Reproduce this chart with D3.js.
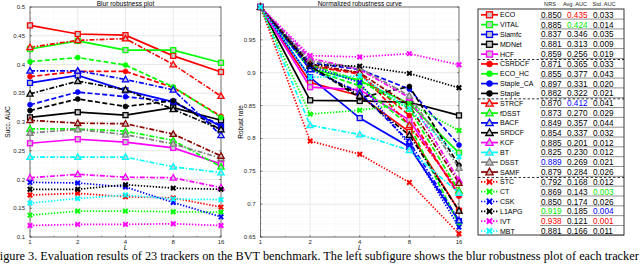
<!DOCTYPE html>
<html>
<head>
<meta charset="utf-8">
<script src="https://cdn.jsdelivr.net/npm/d3@7"></script>
<style>
  body { margin: 0; background: #fff; }
  svg { display: block; font-family: "Liberation Sans", Arial, sans-serif; }
</style>
</head>
<body>
<div id="chart"></div>
<script>
// ---- data ----
const lValues = [1, 2, 4, 8, 16]
const trackers = ['ECO', 'VITAL', 'Siamfc', 'MDNet', 'HCF',
  'CSRDCF', 'ECO_HC', 'Staple_CA', 'Staple',
  'STRCF', 'fDSST', 'BACF', 'SRDCF', 'KCF', 'BT', 'DSST', 'SAMF',
  'STC', 'CT', 'CSK', 'L1APG', 'IVT', 'MBT']
// 0 solid/square, 1 dashed/circle, 2 dash-dot/triangle, 3 dotted/cross
const groups = [0, 0, 0, 0, 0, 1, 1, 1, 1, 2, 2, 2, 2, 2, 2, 2, 2, 3, 3, 3, 3, 3, 3]
const colors = ['#ff0000', '#00ff00', '#0000ff', '#000000', '#ff00ff',
  '#ff0000', '#00ff00', '#0000ff', '#000000',
  '#ff0000', '#00ff00', '#0000ff', '#000000', '#ff00ff', '#00ffff', '#808080', '#8b0000',
  '#ff0000', '#00ff00', '#0000ff', '#000000', '#ff00ff', '#00ffff']

// Succ. AUC per L (1,2,4,8,16)
const succAuc = [
  [0.468, 0.453, 0.451, 0.415, 0.387], // ECO
  [0.427, 0.441, 0.425, 0.425, 0.403], // VITAL
  [0.368, 0.381, 0.355, 0.335, 0.292], // Siamfc
  [0.308, 0.317, 0.312, 0.325, 0.303], // MDNet
  [0.263, 0.270, 0.265, 0.255, 0.227], // HCF
  [0.379, 0.388, 0.388, 0.360, 0.310], // CSRDCF
  [0.405, 0.412, 0.399, 0.361, 0.308], // ECO_HC
  [0.330, 0.352, 0.344, 0.335, 0.294], // Staple_CA
  [0.320, 0.340, 0.327, 0.337, 0.286], // Staple
  [0.430, 0.442, 0.445, 0.400, 0.345], // STRCF
  [0.288, 0.288, 0.284, 0.268, 0.222], // fDSST
  [0.389, 0.389, 0.374, 0.356, 0.277], // BACF
  [0.349, 0.371, 0.356, 0.322, 0.287], // SRDCF
  [0.203, 0.209, 0.204, 0.203, 0.186], // KCF
  [0.239, 0.239, 0.239, 0.222, 0.212], // BT
  [0.281, 0.287, 0.278, 0.262, 0.237], // DSST
  [0.303, 0.298, 0.297, 0.279, 0.241], // SAMF
  [0.173, 0.176, 0.170, 0.168, 0.152], // STC
  [0.138, 0.145, 0.145, 0.144, 0.143], // CT
  [0.195, 0.194, 0.187, 0.160, 0.135], // CSK
  [0.183, 0.183, 0.191, 0.185, 0.183], // L1APG
  [0.120, 0.122, 0.122, 0.123, 0.120], // IVT
  [0.159, 0.167, 0.173, 0.166, 0.165]  // MBT
]

// normalized robust rate per L
const robustRate = [
  [1, 0.885, 0.865, 0.810, 0.690], // ECO
  [1, 0.906, 0.888, 0.853, 0.778], // VITAL
  [1, 0.893, 0.831, 0.787, 0.674], // Siamfc
  [1, 0.858, 0.857, 0.855, 0.835], // MDNet
  [1, 0.878, 0.874, 0.828, 0.715], // HCF
  [1, 0.910, 0.898, 0.835, 0.712], // CSRDCF
  [1, 0.905, 0.880, 0.820, 0.670], // ECO_HC
  [1, 0.915, 0.905, 0.875, 0.790], // Staple_CA
  [1, 0.910, 0.862, 0.879, 0.759], // Staple
  [1, 0.910, 0.900, 0.820, 0.720], // STRCF
  [1, 0.912, 0.888, 0.845, 0.720], // fDSST
  [1, 0.905, 0.870, 0.795, 0.675], // BACF
  [1, 0.910, 0.865, 0.805, 0.690], // SRDCF
  [1, 0.922, 0.905, 0.862, 0.736], // KCF
  [1, 0.820, 0.806, 0.782, 0.717], // BT
  [1, 0.918, 0.907, 0.865, 0.755], // DSST
  [1, 0.913, 0.900, 0.850, 0.732], // SAMF
  [1, 0.796, 0.776, 0.733, 0.655], // STC
  [1, 0.837, 0.843, 0.853, 0.812], // CT
  [1, 0.910, 0.885, 0.790, 0.665], // CSK
  [1, 0.912, 0.910, 0.899, 0.877], // L1APG
  [1, 0.926, 0.924, 0.929, 0.912], // IVT
  [1, 0.893, 0.895, 0.845, 0.772]  // MBT
]

const nrs    = ['0.850', '0.885', '0.837', '0.881', '0.859', '0.871', '0.855', '0.897', '0.882', '0.870', '0.873', '0.849', '0.854', '0.885', '0.825', '0.889', '0.879', '0.792', '0.869', '0.850', '0.919', '0.938', '0.881']
const avgAuc = ['0.435', '0.424', '0.346', '0.313', '0.256', '0.365', '0.377', '0.331', '0.322', '0.412', '0.270', '0.357', '0.337', '0.201', '0.230', '0.269', '0.284', '0.168', '0.143', '0.174', '0.185', '0.121', '0.166']
const stdAuc = ['0.033', '0.014', '0.035', '0.009', '0.019', '0.033', '0.043', '0.020', '0.021', '0.041', '0.029', '0.044', '0.032', '0.012', '0.012', '0.021', '0.026', '0.012', '0.003', '0.026', '0.004', '0.001', '0.011']
// highlighted cells: [row, column, colour]
const highlights = [[0, 1, '#ff0000'], [1, 1, '#00ee00'], [9, 1, '#0000ff'], [15, 0, '#0000ff'],
  [18, 2, '#00ee00'], [20, 0, '#00ee00'], [20, 2, '#0000ff'], [21, 0, '#ff0000'], [21, 2, '#ff0000']]

const caption = 'Figure 3. Evaluation results of 23 trackers on the BVT benchmark. The left subfigure shows the blur robustness plot of each tracker'

// ---- drawing ----
const width = 640, height = 265
const plotTop = 7, plotBottom = 237
const dashes = [null, '5,2.4', '5,1.8,1.4,1.8', '1.4,1.6']

const svg = d3.select('#chart').append('svg')
  .attr('width', width).attr('height', height)

function marker(sel, grp, col, s) {
  if (grp === 0) {
    sel.append('rect').attr('x', -s / 2).attr('y', -s / 2).attr('width', s).attr('height', s)
      .attr('fill', '#c8c8c8').attr('stroke', col).attr('stroke-width', 1.3)
  } else if (grp === 1) {
    sel.append('circle').attr('r', s * 0.5).attr('fill', col).attr('stroke', col).attr('stroke-width', 0.6)
  } else if (grp === 2) {
    const h = s * 0.62
    sel.append('path').attr('d', `M0,${-h * 1.05}L${h},${h * 0.75}L${-h},${h * 0.75}Z`)
      .attr('fill', '#c8c8c8').attr('stroke', col).attr('stroke-width', 1.3)
  } else {
    const r = s * 0.45
    sel.append('path').attr('d', `M${-r},${-r}L${r},${r}M${-r},${r}L${r},${-r}`)
      .attr('fill', 'none').attr('stroke', col).attr('stroke-width', 2)
  }
}

function panel(cfg) {
  const x = d3.scaleLog().base(2).domain([1, 16]).range(cfg.xRange)
  const y = d3.scaleLinear().domain(cfg.yDomain).range([plotBottom, plotTop])
  const g = svg.append('g')
  const x0 = cfg.xRange[0], x1 = cfg.xRange[1]

  // minor grid
  const minorX = [0.5, 1.5, 2.5, 3.5].map(e => Math.pow(2, e))
  const minorY = d3.range(Math.round(cfg.yDomain[0] * 100), Math.round(cfg.yDomain[1] * 100) + 1)
    .map(v => v / 100)
  g.selectAll('.mgx').data(minorX).join('line')
    .attr('x1', d => x(d)).attr('x2', d => x(d)).attr('y1', plotTop).attr('y2', plotBottom)
    .attr('stroke', '#ececec').attr('stroke-width', 0.5).attr('stroke-dasharray', '1,1')
  g.selectAll('.mgy').data(minorY).join('line')
    .attr('x1', x0).attr('x2', x1).attr('y1', d => y(d)).attr('y2', d => y(d))
    .attr('stroke', '#efefef').attr('stroke-width', 0.5).attr('stroke-dasharray', '1,1')

  // major grid
  const majorY = d3.range(Math.round(cfg.yDomain[0] * 20), Math.round(cfg.yDomain[1] * 20) + 1)
    .map(v => v / 20)
  g.selectAll('.gx').data(lValues).join('line')
    .attr('x1', d => x(d)).attr('x2', d => x(d)).attr('y1', plotTop).attr('y2', plotBottom)
    .attr('stroke', '#dcdcdc').attr('stroke-width', 0.6)
  g.selectAll('.gy').data(majorY).join('line')
    .attr('x1', x0).attr('x2', x1).attr('y1', d => y(d)).attr('y2', d => y(d))
    .attr('stroke', '#dcdcdc').attr('stroke-width', 0.6)

  // ticks inside
  g.selectAll('.ty').data(majorY).join('line')
    .attr('x1', x0).attr('x2', x0 + 2).attr('y1', d => y(d)).attr('y2', d => y(d))
    .attr('stroke', '#333').attr('stroke-width', 0.5)
  g.selectAll('.tyr').data(majorY).join('line')
    .attr('x1', x1).attr('x2', x1 - 2).attr('y1', d => y(d)).attr('y2', d => y(d))
    .attr('stroke', '#333').attr('stroke-width', 0.5)
  g.selectAll('.mty').data(minorY).join('line')
    .attr('x1', x0).attr('x2', x0 + 1).attr('y1', d => y(d)).attr('y2', d => y(d))
    .attr('stroke', '#333').attr('stroke-width', 0.4)
  g.selectAll('.tx').data(lValues).join('line')
    .attr('x1', d => x(d)).attr('x2', d => x(d)).attr('y1', plotBottom).attr('y2', plotBottom - 2)
    .attr('stroke', '#333').attr('stroke-width', 0.5)
  g.selectAll('.mtx').data(minorX).join('line')
    .attr('x1', d => x(d)).attr('x2', d => x(d)).attr('y1', plotBottom).attr('y2', plotBottom - 1.2)
    .attr('stroke', '#333').attr('stroke-width', 0.4)

  // box
  g.append('rect').attr('x', x0).attr('y', plotTop).attr('width', x1 - x0).attr('height', plotBottom - plotTop)
    .attr('fill', 'none').attr('stroke', '#262626').attr('stroke-width', 0.6)

  // tick labels
  g.selectAll('.yl').data(cfg.yLabels).join('text')
    .attr('x', x0 - 5).attr('y', d => y(d) + 2)
    .attr('text-anchor', 'end').attr('font-size', 6).attr('fill', '#262626')
    .text(d => String(d))
  g.selectAll('.xl').data(lValues).join('text')
    .attr('x', d => x(d)).attr('y', plotBottom + 7)
    .attr('text-anchor', 'middle').attr('font-size', 6).attr('fill', '#262626')
    .text(d => d)

  // titles
  g.append('text').attr('x', (x0 + x1) / 2).attr('y', 5.5).attr('text-anchor', 'middle')
    .attr('font-size', 6.5).attr('fill', '#000').text(cfg.title)
  g.append('text').attr('x', (x0 + x1) / 2).attr('y', plotBottom + 13).attr('text-anchor', 'middle')
    .attr('font-size', 6.5).attr('font-style', 'italic').text('L')
  g.append('text').attr('transform', `translate(${cfg.yLabelX},${(plotTop + plotBottom) / 2}) rotate(-90)`)
    .attr('text-anchor', 'middle').attr('font-size', 6.5).text(cfg.yTitle)

  // series
  const line = d3.line().x((d, i) => x(lValues[i])).y(d => y(d))
  cfg.data.forEach((vals, k) => {
    g.append('path').attr('d', line(vals)).attr('fill', 'none')
      .attr('stroke', colors[k]).attr('stroke-width', 1.7)
      .attr('stroke-dasharray', dashes[groups[k]])
  })
  cfg.data.forEach((vals, k) => {
    vals.forEach((v, i) => {
      const m = g.append('g').attr('transform', `translate(${x(lValues[i])},${y(v)})`)
      marker(m, groups[k], colors[k], 5)
    })
  })
}

panel({
  xRange: [30, 221], yDomain: [0.1, 0.5], data: succAuc,
  yLabels: [0.1, 0.15, 0.2, 0.25, 0.3, 0.35, 0.4, 0.45, 0.5],
  title: 'Blur robustness plot', yTitle: 'Succ. AUC', yLabelX: 10
})
panel({
  xRange: [260.5, 459], yDomain: [0.65, 1], data: robustRate,
  yLabels: [0.65, 0.7, 0.75, 0.8, 0.85, 0.9, 0.95],
  title: 'Normalized robustness curve', yTitle: 'Robust rate', yLabelX: 243
})

// ---- legend table ----
const lg = svg.append('g')
const rowY = d3.scaleLinear().domain([0, trackers.length - 1]).range([14.8, 231])
const lx0 = 478, lx1 = 624
lg.append('rect').attr('x', lx0).attr('y', 9).attr('width', lx1 - lx0).attr('height', 226)
  .attr('fill', '#fff').attr('stroke', '#000').attr('stroke-width', 0.8)

const colX = [541, 567, 593]
const headers = [['NRS', 550], ['Avg. AUC', 575], ['Std. AUC', 604]]
headers.forEach(h => {
  lg.append('text').attr('x', h[1]).attr('y', 6).attr('text-anchor', 'middle')
    .attr('font-size', 5.6).attr('fill', '#222').text(h[0])
})

trackers.forEach((name, k) => {
  const yy = rowY(k)
  lg.append('line').attr('x1', 481).attr('x2', 498).attr('y1', yy).attr('y2', yy)
    .attr('stroke', colors[k]).attr('stroke-width', 1.7)
    .attr('stroke-dasharray', groups[k] === 3 ? '1.4,1.6' : null)
  const m = lg.append('g').attr('transform', `translate(489.5,${yy})`)
  marker(m, groups[k], colors[k], 6)
  lg.append('text').attr('x', 500).attr('y', yy + 2.5).attr('font-size', 7).text(name)
  const cells = [nrs[k], avgAuc[k], stdAuc[k]]
  cells.forEach((c, j) => {
    const hl = highlights.find(h => h[0] === k && h[1] === j)
    lg.append('text').attr('x', colX[j]).attr('y', yy + 3)
      .attr('font-size', 8.2).attr('fill', hl ? hl[2] : '#000').text(c)
  })
  lg.append('line').attr('x1', 540).attr('x2', lx1).attr('y1', yy + 4.3).attr('y2', yy + 4.3)
    .attr('stroke', '#444').attr('stroke-width', 0.6)
})
// group separators
;[4, 8, 16].forEach(k => {
  const yy = (rowY(k) + rowY(k + 1)) / 2 + 0.5
  lg.append('line').attr('x1', lx0).attr('x2', lx1).attr('y1', yy).attr('y2', yy)
    .attr('stroke', '#000').attr('stroke-width', 0.8).attr('stroke-dasharray', '2.5,2')
})

// ---- caption (cut at bottom edge, as in the source figure) ----
const cap = svg.append('text').attr('x', -7).attr('y', 264)
  .style('font-family', '"Liberation Serif", "Times New Roman", serif')
  .attr('font-size', 16).attr('fill', '#000').text(caption)
const len = cap.node().getComputedTextLength()
const fs = 16 * 647 / len
cap.attr('font-size', fs).attr('y', 252 + fs * 0.66)
</script>
</body>
</html>
